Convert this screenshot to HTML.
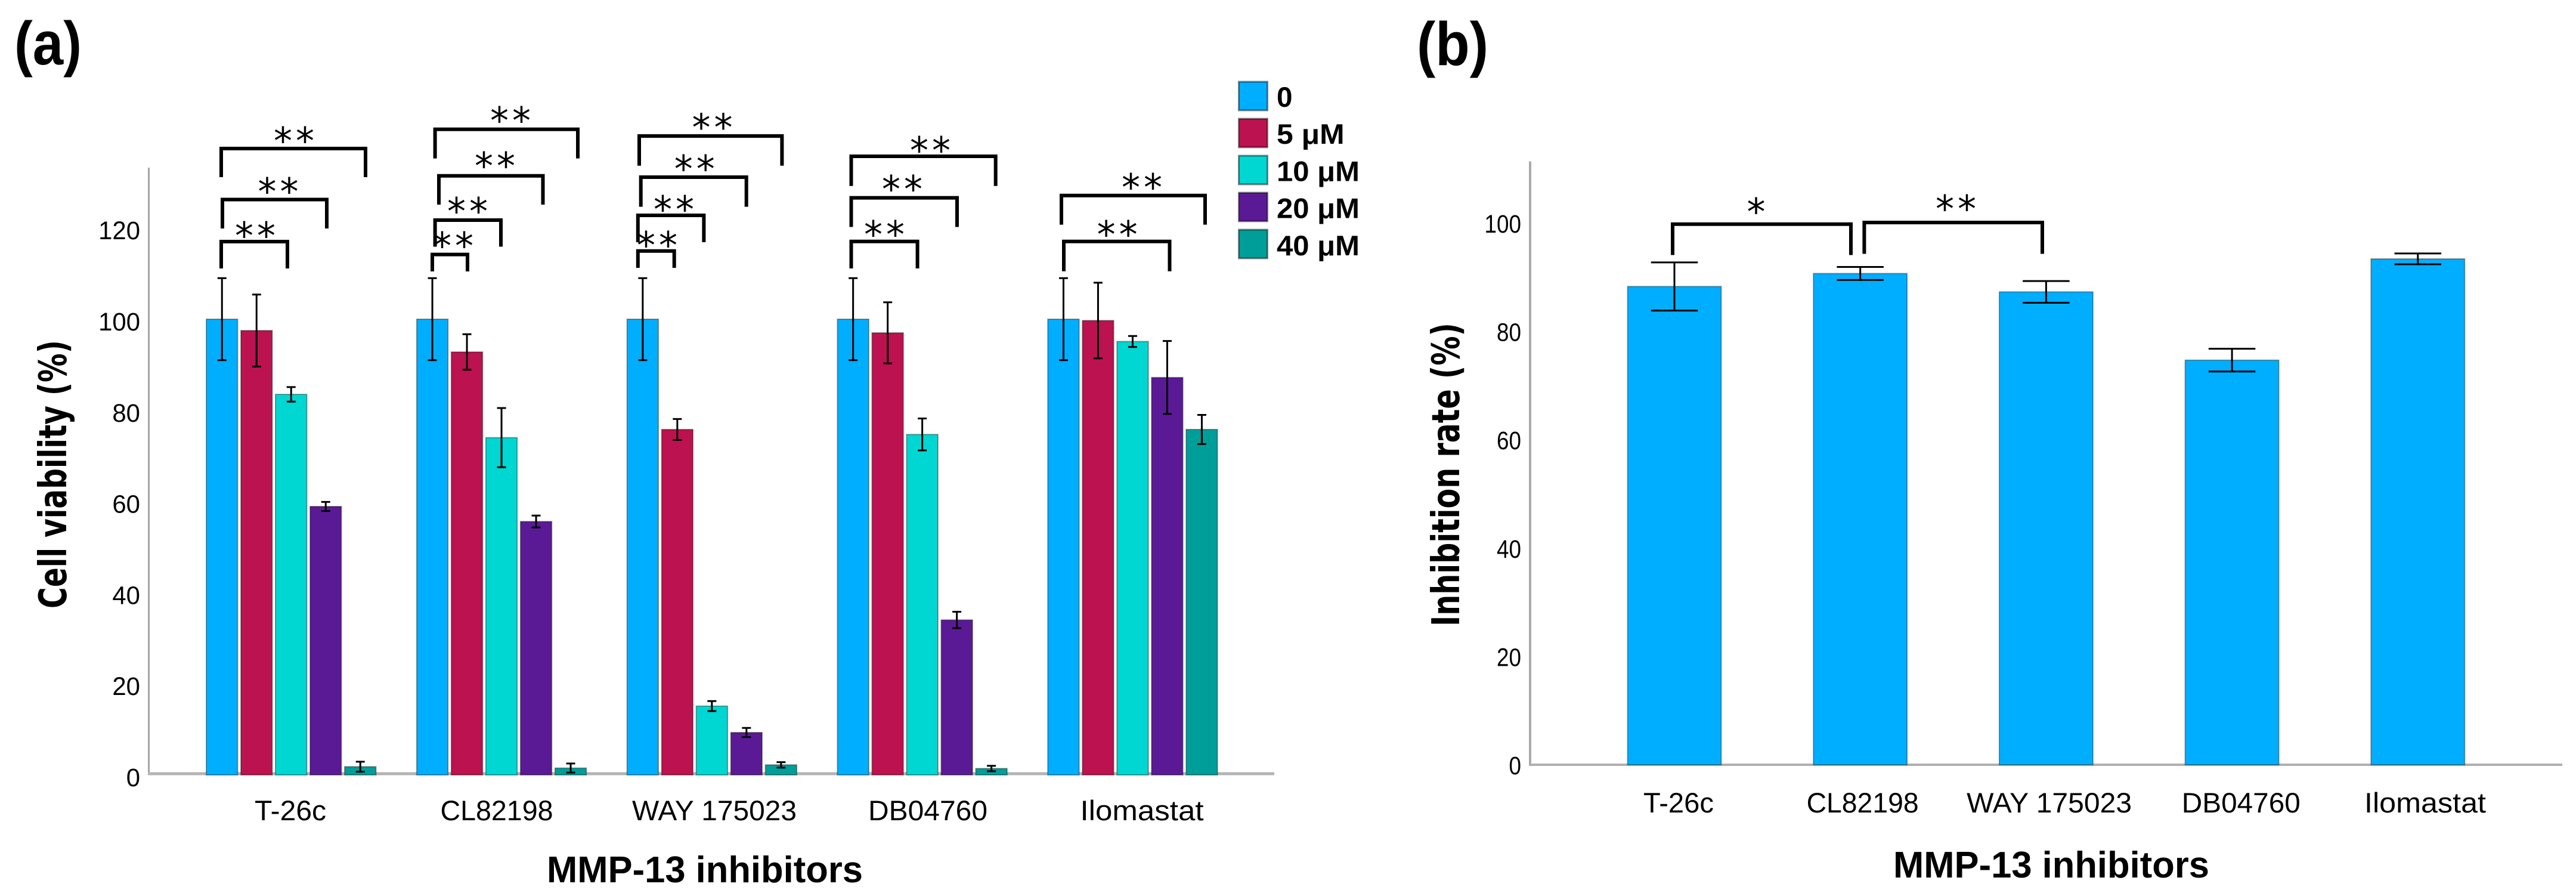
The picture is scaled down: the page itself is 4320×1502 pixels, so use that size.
<!DOCTYPE html>
<html lang="en">
<head>
<meta charset="utf-8">
<title>MMP-13 inhibitors: cell viability and inhibition rate</title>
<style>
html,body{margin:0;padding:0;background:#fff;}
svg{display:block;}
text{fill:#000;}
.tick{font-family:"Liberation Sans",sans-serif;font-size:43px;}
.xtick{font-family:"Liberation Sans",sans-serif;font-size:47px;}
.bold{font-family:"Liberation Sans",sans-serif;font-weight:700;}
.ytitle{font-family:"DejaVu Sans",sans-serif;font-weight:700;font-size:64px;}
.star{font-family:"DejaVu Sans",sans-serif;font-size:62px;letter-spacing:6px;}
</style>
</head>
<body>
<svg id="fig" xmlns="http://www.w3.org/2000/svg" width="4320" height="1502" viewBox="0 0 4320 1502">
  <rect x="0" y="0" width="4320" height="1502" fill="#ffffff"/>
  <text class="bold" x="24" y="108" font-size="103" textLength="113" lengthAdjust="spacingAndGlyphs">(a)</text>
  <text class="bold" x="2376" y="109" font-size="103" textLength="120" lengthAdjust="spacingAndGlyphs">(b)</text>
  <text class="ytitle" transform="translate(111,1020) rotate(-90)" textLength="450" lengthAdjust="spacingAndGlyphs">Cell viability (%)</text>
  <text class="ytitle" transform="translate(2447,1050) rotate(-90)" textLength="509" lengthAdjust="spacingAndGlyphs">Inhibition rate (%)</text>
  <text class="bold" x="917" y="1479" font-size="62" textLength="530" lengthAdjust="spacingAndGlyphs">MMP-13 inhibitors</text>
  <text class="bold" x="3175" y="1471" font-size="62" textLength="530" lengthAdjust="spacingAndGlyphs">MMP-13 inhibitors</text>
</svg>
<script>
// ---- Panel (a) data ----
var categories = ['T-26c', 'CL82198', 'WAY 175023', 'DB04760', 'Ilomastat'];
var seriesNames = ['0', '5 μM', '10 μM', '20 μM', '40 μM'];
var seriesColors = ['#00aeff', '#bc124f', '#00d6d2', '#5b1a95', '#009e98'];
var viability0 = [100, 100, 100, 100, 100];
var viability5 = [97.5, 92.8, 75.8, 97, 99.7];
var viability10 = [83.5, 74, 15.1, 74.7, 95.1];
var viability20 = [58.9, 55.6, 9.3, 34, 87.2];
var viability40 = [1.8, 1.5, 2.2, 1.4, 75.8];
var error0 = [9, 9, 9, 9, 9];
var error5 = [7.9, 3.9, 2.3, 6.7, 8.3];
var error10 = [1.6, 6.5, 1.1, 3.5, 1.2];
var error20 = [1, 1.3, 1, 1.8, 8];
var error40 = [1.1, 1, 0.6, 0.6, 3.2];
var ticksA = [0, 20, 40, 60, 80, 100, 120];
// ---- Panel (b) data ----
var inhibition = [88.3, 90.7, 87.3, 74.7, 93.4];
var inhibitionError = [4.45, 1.2, 2, 2.1, 1];
var ticksB = [0, 20, 40, 60, 80, 100];

var NS = 'http://www.w3.org/2000/svg';
var fig = document.getElementById('fig');
var viabilitySeries = [viability0, viability5, viability10, viability20, viability40];
var errorSeries = [error0, error5, error10, error20, error40];

function yA(v) { return 1299 - v * 7.64; }
function yB(v) { return 1282 - v * 9.08; }
function xA(groupIndex, seriesIndex) { return 346 + groupIndex * 352.8 + seriesIndex * 58; }
function xB(groupIndex) { return 2729.5 + groupIndex * 311.7; }

function mk(tag, attrs, text) {
  var el = document.createElementNS(NS, tag);
  for (var k in attrs) { el.setAttribute(k, attrs[k]); }
  if (text !== undefined) { el.textContent = text; }
  fig.appendChild(el);
  return el;
}
function slug(s) {
  return String(s).toLowerCase().replace(/μ/g, 'u').replace(/[^a-z0-9]+/g, '-');
}

function drawError(cx, yTop, yBottom, capW, sw, name) {
  var d = 'M' + (cx - capW / 2) + ' ' + yTop + 'H' + (cx + capW / 2) +
          'M' + cx + ' ' + yTop + 'V' + yBottom +
          'M' + (cx - capW / 2) + ' ' + yBottom + 'H' + (cx + capW / 2);
  var e = mk('path', { d: d, fill: 'none', stroke: '#000', 'stroke-width': sw });
  
  
}

function drawBracket(x1, x2, top, bottom, starX, starY, stars, sw, name) {
  var b = mk('path', {
    d: 'M' + x1 + ' ' + bottom + 'V' + top + 'H' + x2 + 'V' + bottom,
    fill: 'none', stroke: '#000', 'stroke-width': sw
  });
  
  
  var t = mk('text', {
    'class': 'star', x: starX + 3, y: starY + 32, 'text-anchor': 'middle'
  }, stars);
  
  
}

// ---- Panel (a) axes ----
var axisAY = mk('line', { x1: 249.5, x2: 249.5, y1: 281, y2: 1299, stroke: '#a6a6a6', 'stroke-width': 3 });


var axisAX = mk('line', { x1: 248, x2: 2137, y1: 1297, y2: 1297, stroke: '#b4b4b4', 'stroke-width': 5 });


ticksA.forEach(function (t) {
  var lab = mk('text', {
    'class': 'tick', x: 235, y: yA(t) + 19, 'text-anchor': 'end',
    textLength: String(t).length * 23.3, lengthAdjust: 'spacingAndGlyphs'
  }, t);
  
  
});

// ---- Panel (a) bars ----
var labelCentersA = [487, 833, 1198, 1556, 1915];
var labelWidthsA = [120, 189, 276, 200, 207];
categories.forEach(function (cat, g) {
  seriesNames.forEach(function (sName, s) {
    var v = viabilitySeries[s][g];
    var x = xA(g, s);
    var bar = mk('rect', {
      x: x, y: yA(v), width: 52.5, height: 1299 - yA(v),
      fill: seriesColors[s], stroke: 'rgba(0,0,0,0.35)', 'stroke-width': 2
    });
    
    
  });
  seriesNames.forEach(function (sName, s) {
    var v = viabilitySeries[s][g];
    var er = errorSeries[s][g];
    drawError(xA(g, s) + 26.25, yA(v + er), yA(v - er), 15, 3, 'error-bar-' + slug(cat) + '-' + slug(sName));
  });
  var lab = mk('text', {
    'class': 'xtick', x: labelCentersA[g], y: 1375, 'text-anchor': 'middle',
    textLength: labelWidthsA[g], lengthAdjust: 'spacingAndGlyphs'
  }, cat);
  
  
});

// ---- Panel (a) significance brackets ----
drawBracket(371, 482, 405, 450, 428, 385, '**', 6, 'bracket-t-26c-10');
drawBracket(373, 548, 334.5, 383, 466.5, 311, '**', 6, 'bracket-t-26c-20');
drawBracket(371, 613, 249, 297, 493, 226, '**', 6, 'bracket-t-26c-40');
drawBracket(725, 784, 426.6, 455, 760, 402, '**', 6, 'bracket-cl82198-5');
drawBracket(729.6, 840, 369, 413.5, 784, 344, '**', 6, 'bracket-cl82198-10');
drawBracket(736, 910.5, 294.7, 343, 830, 268, '**', 6, 'bracket-cl82198-20');
drawBracket(729.6, 969, 216.7, 265.6, 856, 192, '**', 6, 'bracket-cl82198-40');
drawBracket(1069.8, 1130.7, 420.7, 449, 1102, 401, '**', 6, 'bracket-way-5');
drawBracket(1069.8, 1180.4, 361, 406, 1130, 341, '**', 6, 'bracket-way-10');
drawBracket(1074.7, 1251.7, 297, 346.6, 1164.7, 273, '**', 6, 'bracket-way-20');
drawBracket(1072, 1311.4, 228, 277.7, 1194.5, 203.6, '**', 6, 'bracket-way-40');
drawBracket(1427.5, 1538.6, 404.7, 450, 1483, 383, '**', 6, 'bracket-db04760-10');
drawBracket(1427.5, 1605, 331.6, 380.5, 1513, 307, '**', 6, 'bracket-db04760-20');
drawBracket(1427.5, 1669.7, 262, 311.7, 1560, 242, '**', 6, 'bracket-db04760-40');
drawBracket(1784, 1961.5, 404.7, 454.7, 1873.6, 383, '**', 6, 'bracket-ilomastat-20');
drawBracket(1780, 2021, 327.7, 376.6, 1915, 304, '**', 6, 'bracket-ilomastat-40');

// ---- Legend ----
var legendWidths = [26.5, 113.6, 139, 139, 139];
seriesNames.forEach(function (sName, s) {
  var swatch = mk('rect', {
    x: 2077.5, y: 137 + s * 62, width: 48, height: 48,
    fill: seriesColors[s], stroke: 'rgba(0,0,0,0.45)', 'stroke-width': 3
  });
  
  
  var lab = mk('text', {
    'class': 'bold', x: 2141, y: 179 + s * 62.2, 'font-size': 47,
    textLength: legendWidths[s], lengthAdjust: 'spacingAndGlyphs'
  }, sName);
  
  
});

// ---- Panel (b) axes ----
var axisBY = mk('line', { x1: 2566, x2: 2566, y1: 270.5, y2: 1282, stroke: '#ababab', 'stroke-width': 4 });


var axisBX = mk('line', { x1: 2564, x2: 4297, y1: 1282, y2: 1282, stroke: '#b0b0b0', 'stroke-width': 4 });


ticksB.forEach(function (t) {
  var lab = mk('text', {
    'class': 'tick', x: 2551, y: yB(t) + 16, 'text-anchor': 'end',
    textLength: String(t).length * 20.5, lengthAdjust: 'spacingAndGlyphs'
  }, t);
  
  
});

// ---- Panel (b) bars ----
var labelCentersB = [2815, 3123.6, 3436.6, 3758.3, 4067];
var labelWidthsB = [118, 188, 277, 199, 204];
categories.forEach(function (cat, g) {
  var v = inhibition[g];
  var er = inhibitionError[g];
  var x = xB(g);
  var bar = mk('rect', {
    x: x, y: yB(v), width: 157, height: 1282 - yB(v),
    fill: seriesColors[0], stroke: 'rgba(0,0,0,0.35)', 'stroke-width': 2
  });
  
  
  drawError(x + 78.5, yB(v + er), yB(v - er), 78.5, 3, 'error-bar-inhibition-' + slug(cat));
  var lab = mk('text', {
    'class': 'xtick', x: labelCentersB[g], y: 1362, 'text-anchor': 'middle',
    textLength: labelWidthsB[g], lengthAdjust: 'spacingAndGlyphs'
  }, cat);
  
  
});

// ---- Panel (b) significance brackets ----
drawBracket(2805, 3104, 375.7, 427.5, 2945, 345, '*', 6, 'bracket-t-26c-cl82198');
drawBracket(3126.4, 3425, 373, 425.5, 3280, 340, '**', 6, 'bracket-cl82198-way');
</script>
</body>
</html>
